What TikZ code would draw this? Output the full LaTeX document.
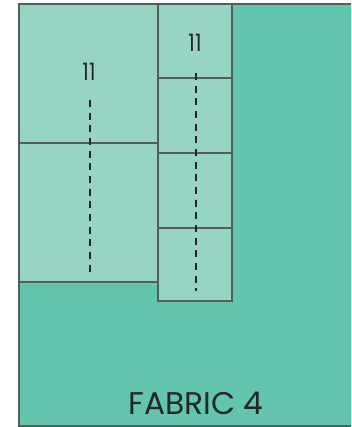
\documentclass[tikz,border=0pt]{standalone}
\usepackage{fontspec}
\usetikzlibrary{positioning}
\newfontfamily\fabricfont{Poppins}
\definecolor{fabricdark}{HTML}{62C5AE}
\definecolor{fabriclight}{HTML}{96D5C4}
\definecolor{seamgray}{HTML}{5A5A5A}
\tikzset{
	fabric/.style={fill=fabricdark, draw=seamgray, line width=0.9pt},
	piece/.style={fill=fabriclight, draw=seamgray, line width=0.9pt},
	fold/.style={line width=1.8pt, dash pattern=on 5.3pt off 4.2pt, black!85},
	cutsize/.style={font=\fabricfont\fontsize{18}{18}\selectfont, text=black!85, inner sep=0pt, xscale=0.85},
	fabricname/.style={font=\fabricfont\fontsize{23.5}{23.5}\selectfont, text=black!85, inner sep=0pt}
}

\begin{document}
\begin{tikzpicture}[x=0.75pt,y=-0.75pt]
\useasboundingbox (0,0) rectangle (351,427);
\clip (0,0) rectangle (351,427);
% fabric
\draw [fabric] (19,4) rectangle (360,426);
% left column
\draw [piece] (19,4) rectangle (158,143);
\draw [piece] (19,143) rectangle (158,282);
% right column
\draw [piece] (158,4) rectangle (232,78);
\draw [piece] (158,78) rectangle (232,153);
\draw [piece] (158,153) rectangle (232,228);
\draw [piece] (158,228) rectangle (232,301);
% fold lines
\coordinate (leftTop) at (90,100);
\coordinate (leftBot) at (90,272);
\coordinate (rightTop) at (196,73);
\coordinate (rightBot) at (196,291);
\draw [fold] (leftTop) -- (leftBot);
\draw [fold] (rightTop) -- (rightBot);
% labels
\node [cutsize] (leftSize) at (89,72) {11};
\node [cutsize] (rightSize) at (195,43) {11};
\node [fabricname] (name) at (196,403) {FABRIC 4};
\end{tikzpicture}
\end{document}
